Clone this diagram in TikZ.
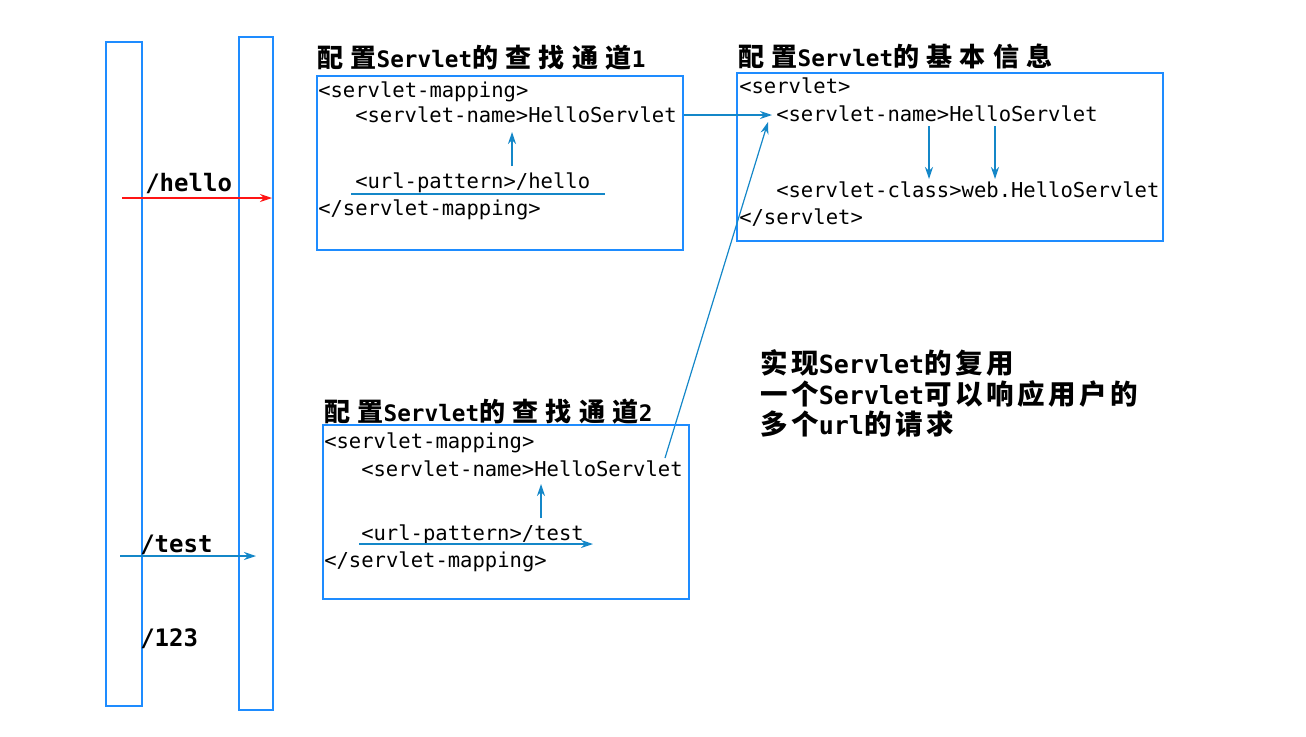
\documentclass[tikz,border=0pt]{standalone}
\usepackage{fontspec}
\setmainfont{DejaVu Sans Mono}[BoldFont={DejaVu Sans Mono Bold}]
\setmonofont{DejaVu Sans Mono}
\newfontfamily\cjkh[Scale=1.15,LetterSpace=28]{Noto Sans CJK SC Bold}
\newfontfamily\cjkn[Scale=1.1,LetterSpace=13]{Noto Sans CJK SC Bold}
\usetikzlibrary{arrows.meta}
\definecolor{boxblue}{RGB}{30,140,255}
\definecolor{arrblue}{RGB}{20,135,200}
\definecolor{arrred}{RGB}{255,20,20}
\tikzset{
  panel/.style={draw=boxblue, line width=1.9pt},
  code/.style={anchor=base west, inner sep=0pt, font=\fontsize{15.4}{18}\selectfont},
  heading/.style={anchor=base west, inner sep=0pt, font=\fontsize{17}{20}\selectfont\bfseries},
  note/.style={anchor=base west, inner sep=0pt, font=\fontsize{18.75}{22}\selectfont\bfseries},
  path/.style={anchor=base west, inner sep=0pt, font=\fontsize{18}{22}\selectfont\bfseries},
  barrow/.style={draw=arrblue, line width=0.9pt, -{Stealth[length=9pt,width=6pt]}},
  rarrow/.style={draw=arrred, line width=0.9pt, -{Stealth[length=9pt,width=6pt]}},
  bline/.style={draw=arrblue, line width=0.9pt},
}
\begin{document}
\begin{tikzpicture}[x=0.75pt,y=-0.75pt]
\useasboundingbox (0,0) rectangle (1306,736);
% left bars
\draw[panel] (106,42) rectangle (142,706);
\draw[panel] (239,37) rectangle (273,710);
\node[path] (lhello) at (145,191) {/hello};
\node[path] (ltest) at (140,552) {/test};
\node[path] (l123) at (140,646) {/123};
\coordinate (rh1) at (122,198);
\coordinate (rh2) at (272,198);
\draw[rarrow] (rh1) -- (rh2);
\coordinate (bt1) at (120,556);
\coordinate (bt2) at (256,556);
\draw[barrow] (bt1) -- (bt2);

% box 1
\node[heading] (h1) at (317,67) {{\cjkh 配置}Servlet{\cjkh 的查找通道}1};
\draw[panel] (317,76) rectangle (683,250);
\node[code] (m1a) at (318,97) {<servlet-mapping>};
\node[code] (m1b) at (355,122) {<servlet-name>HelloServlet};
\node[code] (m1c) at (355,188) {<url-pattern>/hello};
\node[code] (m1d) at (318,215) {</servlet-mapping>};
\coordinate (u1a) at (351,194);
\coordinate (u1b) at (605,194);
\draw[bline] (u1a) -- (u1b);
\coordinate (up1a) at (512,166);
\coordinate (up1b) at (512,132);
\draw[barrow] (up1a) -- (up1b);

% box 2
\node[heading] (h2) at (738,66) {{\cjkh 配置}Servlet{\cjkh 的基本信息}};
\draw[panel] (737,73) rectangle (1163,241);
\node[code] (s1) at (739,93) {<servlet>};
\node[code] (s2) at (776,121) {<servlet-name>HelloServlet};
\node[code] (s3) at (776,197) {<servlet-class>web.HelloServlet};
\node[code] (s4) at (739,224) {</servlet>};
\coordinate (d1a) at (929,126);
\coordinate (d1b) at (929,179);
\draw[barrow] (d1a) -- (d1b);
\coordinate (d2a) at (995,126);
\coordinate (d2b) at (995,179);
\draw[barrow] (d2a) -- (d2b);
\coordinate (t1) at (684,115);
\coordinate (t2) at (772,115);
\draw[barrow] (t1) -- (t2);
\coordinate (t3) at (665,458);
\coordinate (t4) at (768,122);
\draw[barrow] (t3) -- (t4);

% box 3
\node[heading] (h3) at (324,421) {{\cjkh 配置}Servlet{\cjkh 的查找通道}2};
\draw[panel] (323,425) rectangle (689,599);
\node[code] (m3a) at (324,448) {<servlet-mapping>};
\node[code] (m3b) at (361,476) {<servlet-name>HelloServlet};
\node[code] (m3c) at (361,540) {<url-pattern>/test};
\node[code] (m3d) at (324,567) {</servlet-mapping>};
\coordinate (up3a) at (541,518);
\coordinate (up3b) at (541,484);
\draw[barrow] (up3a) -- (up3b);
\coordinate (u3a) at (359,544);
\coordinate (u3b) at (593,544);
\draw[barrow] (u3a) -- (u3b);

% note
\node[note] (n1) at (760,373) {{\cjkn 实现}Servlet{\cjkn 的复用}};
\node[note] (n2) at (760,404) {{\cjkn 一个}Servlet{\cjkn 可以响应用户的}};
\node[note] (n3) at (760,434) {{\cjkn 多个}url{\cjkn 的请求}};
\end{tikzpicture}
\end{document}
